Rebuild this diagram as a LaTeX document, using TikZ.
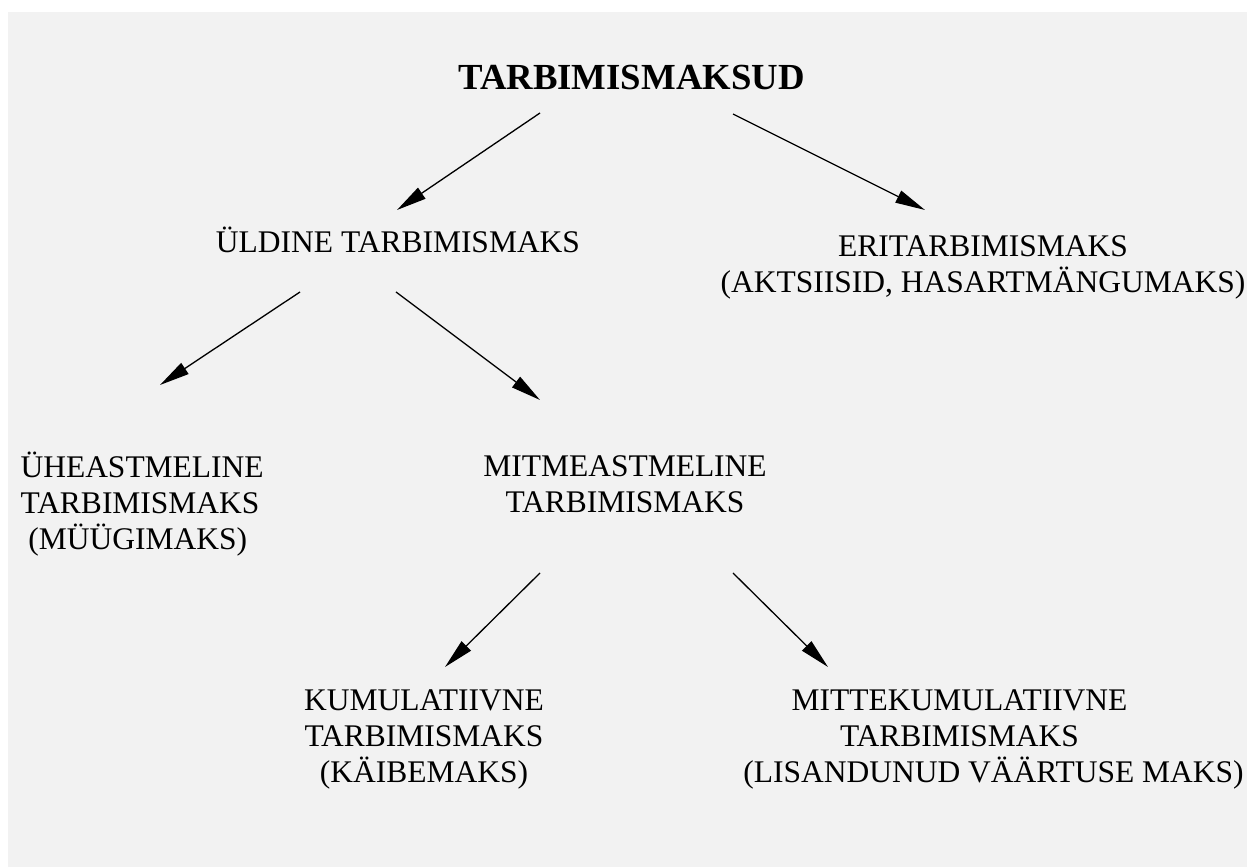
\documentclass[tikz,border=0pt]{standalone}
\usepackage{fontspec}
\setmainfont{Liberation Serif}
\usepackage{xcolor}
\usepackage{tikz}
\usetikzlibrary{arrows.meta,calc}
\definecolor{paper}{RGB}{242,242,242}

\begin{document}
\begin{tikzpicture}[x=0.381pt,y=0.381pt,
		lbl/.style={inner sep=0pt,font=\fontsize{12}{13.9}\selectfont},
		arr/.style={-{Triangle[length=11.4pt,width=5pt]},line width=0.5pt}]
		%page
		\useasboundingbox (0,0) rectangle (1247,867);
		\fill[paper] (8,0) rectangle (1247,855);
		
		%nodes (base = last line)
		\node[inner sep=0pt,anchor=base,font=\bfseries\fontsize{14}{16}\selectfont] (title) at (631.5,777) {TARBIMISMAKSUD};
		\node[lbl,anchor=base] (yld) at (398,614) {ÜLDINE TARBIMISMAKS};
		\node[lbl,anchor=base,align=center] (eri) at (983,574) {ERITARBIMISMAKS\\(AKTSIISID, HASARTMÄNGUMAKS)};
		\node[lbl,anchor=base west,align=left] (yhe) at (20,317) {ÜHEASTMELINE\\TARBIMISMAKS\\\hspace*{0.25em}(MÜÜGIMAKS)};
		\node[lbl,anchor=base,align=center] (mitme) at (625,354) {MITMEASTMELINE\\TARBIMISMAKS};
		\node[lbl,anchor=base,align=center] (kum) at (424,84) {KUMULATIIVNE\\TARBIMISMAKS\\(KÄIBEMAKS)};
		\node[lbl,anchor=base,align=center] (mitte) at (959.5,84) {MITTEKUMULATIIVNE\\TARBIMISMAKS\\\hspace*{26pt}(LISANDUNUD VÄÄRTUSE MAKS)};
		
		%arrows
		\draw[arr] ($(title.base)+(-91.5,-23)$) -- ($(yld.base)+(-1,43)$);
		\draw[arr] ($(title.base)+(101.5,-24)$) -- ($(eri.base)+(-58,83)$);
		\draw[arr] ($(yld.base)+(-98,-39)$) -- ($(yhe.base west)+(140,165)$);
		\draw[arr] ($(yld.base)+(-2,-39)$) -- ($(mitme.base)+(-85,113)$);
		\draw[arr] ($(mitme.base)+(-85,-60)$) -- ($(kum.base)+(21,116)$);
		\draw[arr] ($(mitme.base)+(108,-60)$) -- ($(mitte.base)+(-131.5,116)$);
	\end{tikzpicture}
\end{document}
